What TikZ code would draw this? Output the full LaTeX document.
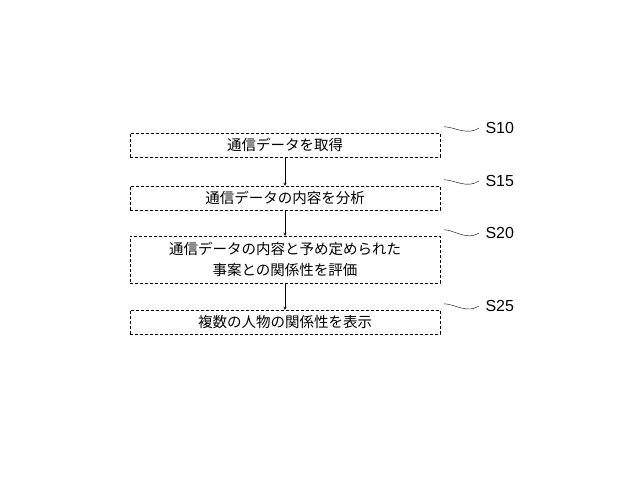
\documentclass[tikz,border=0pt]{standalone}
\usepackage{fontspec}
\setmainfont{Noto Sans CJK JP}
\setsansfont{Liberation Sans}
\usetikzlibrary{positioning}

\begin{document}
\begin{tikzpicture}[x=1pt,y=-1pt,->,>=stealth]
    \tikzstyle{stepbox}=[draw,densely dashed,minimum width=310pt,inner sep=2pt,font=\fontsize{14.5}{21}\selectfont,align=center]
    \tikzstyle{steplabel}=[font=\sffamily\fontsize{16}{16}\selectfont,anchor=west]
    \tikzstyle{leader}=[-,thin]

    \useasboundingbox (0,0) rectangle (640,478);

    \node[stepbox,minimum height=24pt] (S-1) at (285,145) {通信データを取得};
    \node[stepbox,minimum height=24pt] (S-2) at (285,198) {通信データの内容を分析};
    \node[stepbox,minimum height=47pt] (S-3) at (285,259.5) {通信データの内容と予め定められた\\事案との関係性を評価};
    \node[stepbox,minimum height=24pt] (S-4) at (285,322) {複数の人物の関係性を表示};

    % Connect the steps
    \foreach \source/\dest in {1/2,2/3,3/4}
        \draw (S-\source) -- (S-\dest);

    % Step labels
    \node[steplabel] (L-1) at (482,128) {S10};
    \node[steplabel] (L-2) at (482,181) {S15};
    \node[steplabel] (L-3) at (482,233) {S20};
    \node[steplabel] (L-4) at (482,306) {S25};

    \foreach \i in {1,...,4}
        \draw[leader] ([xshift=4pt,yshift=6pt]S-\i.north east) .. controls +(10,0) and +(-12,8) .. ([xshift=-3pt]L-\i.west);
\end{tikzpicture}
\end{document}
